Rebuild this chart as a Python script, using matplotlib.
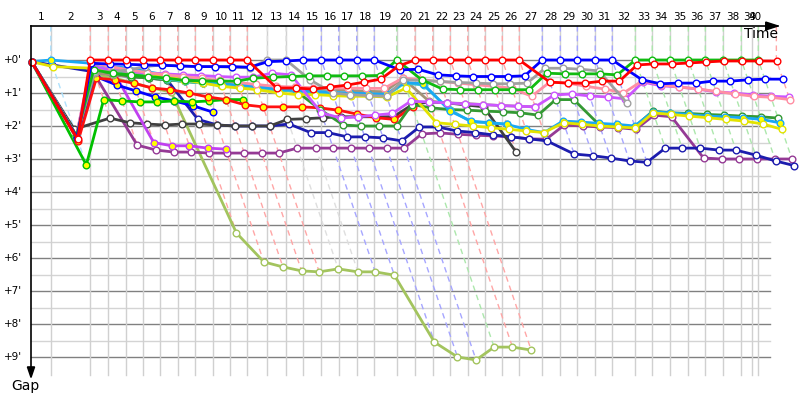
import matplotlib
matplotlib.use("Agg")
import matplotlib.pyplot as plt
from matplotlib.colors import to_rgb

# time (minutes from start) at which the leader closed each lap, laps 0..40
lap_times = [0.0, 1.76, 5.29, 6.90, 8.46, 9.97, 11.54, 13.10, 14.67, 16.22,
             17.77, 19.31, 21.10, 22.77, 24.31, 25.92, 27.47, 29.08, 30.65, 32.65,
             34.29, 35.87, 37.44, 38.99, 40.54, 42.08, 43.60, 45.65, 47.26, 48.78,
             50.38, 51.90, 53.96, 55.47, 57.08, 58.69, 60.21, 61.81, 63.42, 64.94,
             64.40]
finish_time = 66.55

# gap to the leader (minutes) per lap, index 0 = start, 40 = finish
red = [0.05, 2.4, 0, 0, 0, 0, 0, 0, 0, 0, 0, 0, 0.85, 0.85, 0.88, 0.82, 0.76, 0.67,
       0.58, 0.18, 0, 0, 0, 0, 0, 0, 0, 0.67, 0.7, 0.7, 0.64, 0.64, 0.15, 0.12,
       0.12, 0.09, 0.06, 0.03, 0.03, 0.03, 0.03]
blue = [0.05, 2.35, 0.1, 0.12, 0.13, 0.15, 0.16, 0.18, 0.2, 0.2, 0.2, 0.22, 0.05,
        0.03, 0, 0, 0, 0, 0, 0.3, 0.28, 0.45, 0.48, 0.5, 0.5, 0.5, 0.48, 0, 0, 0,
        0, 0, 0.6, 0.72, 0.7, 0.7, 0.64, 0.64, 0.6, 0.58, 0.58]
green = [0.05, 2.3, 0.3, 0.4, 0.45, 0.5, 0.55, 0.62, 0.63, 0.64, 0.64, 0.55, 0.52,
         0.5, 0.48, 0.48, 0.48, 0.48, 0.47, 0, 0.6, 0.88, 0.9, 0.9, 0.9, 0.9, 0.9,
         0.4, 0.42, 0.42, 0.42, 0.45, 0, 0, 0, 0, 0, 0, 0, 0]
gray = [0.05, 2.3, 0.35, 0.35, 0.3, 0.2, 0.15, 0.18, 0.2, 0.2, 0.22, 0.24, 0, 0,
        0.6, 1.0, 1.05, 1.08, 1.1, 0.6, 0.62, 0.65, 0.68, 0.7, 0.72, 0.72, 0.7,
        0.25, 0.25, 0.28, 0.33, 1.3]
pink = [0.05, 2.3, 0.08, 0.2, 0.3, 0.38, 0.45, 0.5, 0.56, 0.62, 0.68, 0.74, 0.8,
        0.82, 0.84, 0.85, 0.85, 0.86, 0.86, 0.55, 0.6, 0.65, 0.7, 0.75, 0.8, 0.85,
        1.1, 0.67, 0.7, 0.8, 0.88, 1.0, 0.63, 0.75, 0.82, 0.88, 0.95, 1.03, 1.1,
        1.13, 1.2]
violet = [0.05, 2.3, 0.2, 0.3, 0.35, 0.4, 0.42, 0.45, 0.47, 0.5, 0.52, 0.52, 0.4,
          0.45, 1.6, 1.76, 1.72, 1.67, 1.62, 1.25, 1.27, 1.3, 1.33, 1.35, 1.38,
          1.4, 1.42, 1.06, 1.03, 1.09, 1.12, 1.18, 0.67, 0.78, 0.82, 0.88, 0.97,
          1.0, 1.06, 1.1, 1.12]
violet_b = [0.05, 2.3, 0.1, 0.2, 2.5, 2.6, 2.6, 2.67, 2.7]
yellow = [0.05, 0.2, 0.25, 0.3, 0.35, 0.4, 0.5, 0.6, 0.7, 0.8, 0.85, 0.9, 1.0,
          1.05, 1.05, 1.08, 1.1, 1.1, 1.12, 0.85, 1.9, 1.95, 2.0, 2.05, 2.1, 2.15,
          2.2, 1.9, 1.95, 2.0, 2.03, 2.06, 1.6, 1.65, 1.7, 1.75, 1.8, 1.85, 1.94,
          2.1]
skyblue = [0.05, 0, 0.1, 0.2, 0.24, 0.35, 0.45, 0.55, 0.62, 0.7, 0.75, 0.8, 0.88,
           0.92, 0.95, 0.98, 1.0, 1.02, 1.04, 0.68, 0.72, 1.55, 1.85, 1.9, 1.95,
           2.1, 2.2, 1.85, 1.88, 1.92, 1.95, 2.0, 1.57, 1.6, 1.65, 1.7, 1.72, 1.75,
           1.8, 1.9]
cyan = [0.05, 2.3, 0.2, 0.3, 0.4, 0.5, 0.58, 0.65, 0.7, 0.75, 0.8, 0.85, 0.9,
        0.95, 0.98, 1.0, 1.03, 1.05, 1.08, 0.7, 0.76, 1.5, 1.88, 1.9, 1.94]
khaki = [0.05, 2.3, 0.4, 0.45, 0.5, 0.55, 0.6, 0.65, 0.7, 0.72, 0.75, 0.78, 0.82,
         0.85, 0.88, 0.9, 0.92, 0.95, 0.96, 0.55, 1.25, 1.3, 1.32, 1.35, 1.38, 1.4,
         1.42]
dark_green = [0.05, 2.3, 0.3, 0.4, 0.5, 0.55, 0.6, 0.65, 0.7, 0.75, 0.8, 0.85,
              0.9, 0.95, 1.5, 1.97, 2.0, 2.0, 2.0, 1.35, 1.45, 1.5, 1.52, 1.55,
              1.57, 1.6, 1.67, 1.2, 1.2, 1.97, 2.0, 2.02, 1.55, 1.6, 1.62, 1.65,
              1.67, 1.7, 1.72, 1.76]
black = [0.05, 2.1, 1.76, 1.9, 1.94, 1.97, 1.94, 1.94, 1.97, 2.0, 2.0, 2.0, 1.8,
         1.78, 1.75, 1.72, 1.72, 1.72, 1.72, 1.36, 1.27, 1.3, 1.36, 1.42, 2.8]
navy = [0.05, 0.15, 0.36, 0.45, 0.5, 0.55, 0.6, 1.8, 1.97, 2.0, 2.0, 2.0, 1.94,
        2.2, 2.2, 2.33, 2.33, 2.36, 2.45, 2.03, 2.03, 2.15, 2.2, 2.27, 2.33, 2.39,
        2.45, 2.85, 2.9, 2.97, 3.06, 3.1, 2.67, 2.67, 2.67, 2.73, 2.73, 2.88,
        3.06, 3.2]
purple = [0.05, 2.35, 0.5, 2.58, 2.73, 2.79, 2.79, 2.82, 2.82, 2.82, 2.82, 2.82,
          2.67, 2.67, 2.67, 2.67, 2.67, 2.67, 2.67, 2.24, 2.21, 2.25, 2.28, 2.3,
          2.33, 2.39, 2.4, 1.97, 2.0, 2.03, 2.05, 2.1, 1.67, 1.72, 2.97, 3.0, 3.0,
          3.0, 3.0, 3.0]
light_green = [0.05, 2.3, 0.45, 0.55, 0.7, 0.85, 0.97, 5.24, 6.12, 6.27, 6.39,
               6.42, 6.33, 6.42, 6.42, 6.52, 8.55, 9.0, 9.09, 8.7, 8.7, 8.79]
red_b = [0.05, 2.45, 0.55, 0.6, 0.7, 0.85, 0.9, 1.0, 1.12, 1.2, 1.36, 1.42, 1.42,
         1.42, 1.45, 1.52, 1.64, 1.75, 1.8, 1.42]
green_b = [0.05, 3.18, 1.2, 1.24, 1.27, 1.27, 1.24, 1.27, 1.24, 1.2, 1.2]
blue_b = [0.05, 2.35, 0.5, 0.76, 0.94, 1.12, 1.24, 1.39, 1.58]

# (gaps, line colour, marker face) - drawn back to front
cars = [
    (light_green, "#a3c45e", "white"),
    (purple, "#953a95", "white"),
    (navy, "#1c1cae", "white"),
    (black, "#404040", "white"),
    (violet_b, "#c040f0", "#ffff00"),
    (blue_b, "#0000ff", "#ffff00"),
    (green_b, "#00c000", "#ffff00"),
    (red_b, "#ff1010", "#ffff00"),
    (khaki, "#a39378", "white"),
    (dark_green, "#339933", "white"),
    (cyan, "#40c8c8", "white"),
    (skyblue, "#19a8f5", "#ffff00"),
    (yellow, "#e3e300", "white"),
    (violet, "#cc55ff", "white"),
    (pink, "#ff8fa3", "white"),
    (gray, "#a0a0a0", "white"),
    (green, "#11bb11", "white"),
    (blue, "#0000ff", "white"),
    (red, "#ff0000", "white"),
]

ref_times = lap_times[:40] + [finish_time]
n_laps = 40

# pixel-like frame: 11.2 px per minute in x, 33 px per minute of gap in y
px_x = 11.2
px_y = 33.0
top = -34 / px_y
bottom = 315 / px_y
right = (770 - 31) / px_x

fig = plt.figure(figsize=(8, 4), dpi=100)
ax = fig.add_axes([0, 0, 1, 1])
ax.set_xlim(-31 / px_x, (800 - 31) / px_x)
ax.set_ylim(340 / px_y, -60 / px_y)
ax.axis("off")

# grid
for g in range(10):
    ax.plot([0, right], [g, g], color="#808080", lw=1, zorder=1)
    if g < 9:
        ax.plot([0, right], [g + 0.5, g + 0.5], color="#d4d4d4", lw=1, zorder=1)
    ax.text(-9 / px_x, g, f"+{g}'", ha="right", va="center", fontsize=7.5)
for t in lap_times[1:]:
    ax.plot([t, t], [top, bottom], color="#d0d0d0", lw=1, zorder=1)

# lap numbers between crossings
for n in range(1, len(lap_times)):
    mid = (lap_times[n - 1] + lap_times[n]) / 2
    ax.text(mid, -42.5 / px_y, str(n), ha="center", va="center", fontsize=7.5)


def lighten(c, f=0.65):
    r, g, b = to_rgb(c)
    return (r + (1 - r) * f, g + (1 - g) * f, b + (1 - b) * f)


# dashed lap lines from the leader to the last car
for k in range(1, n_laps + 1):
    gaps = [(c[0][k], c[1]) for c in cars if k < len(c[0]) and c[0][k] is not None]
    if not gaps:
        continue
    lead_col = min(gaps, key=lambda v: v[0])[1]
    gmax = max(v[0] for v in gaps)
    t = ref_times[k]
    ax.plot([t, t, t + gmax], [top, 0, gmax], color=lighten(lead_col), lw=1,
            ls=(0, (4, 3)), zorder=2)

# cars
for z, (gaps, col, face) in enumerate(cars):
    xs = [ref_times[k] + g for k, g in enumerate(gaps)]
    ax.plot(xs, gaps, color=col, lw=2, marker="o", ms=4.8, mfc=face, mec=col,
            mew=1, zorder=3 + z * 0.01)

# axes with arrows
ax.plot([0, 66.7], [top, top], color="black", lw=1.2, zorder=5)
ax.fill([66.7, 65.6, 65.6], [top, top - 0.12, top + 0.12], color="black", zorder=5)
ax.plot([0, 0], [top, 9.35], color="black", lw=1.2, zorder=5)
ax.fill([0, -0.32, 0.32], [9.62, 9.3, 9.3], color="black", zorder=5)
ax.text(66.7, -26 / px_y, "Time", ha="right", va="center", fontsize=10)
ax.text(-6 / px_x, 326 / px_y, "Gap", ha="center", va="center", fontsize=10)

fig.savefig("out.png", dpi=100)
